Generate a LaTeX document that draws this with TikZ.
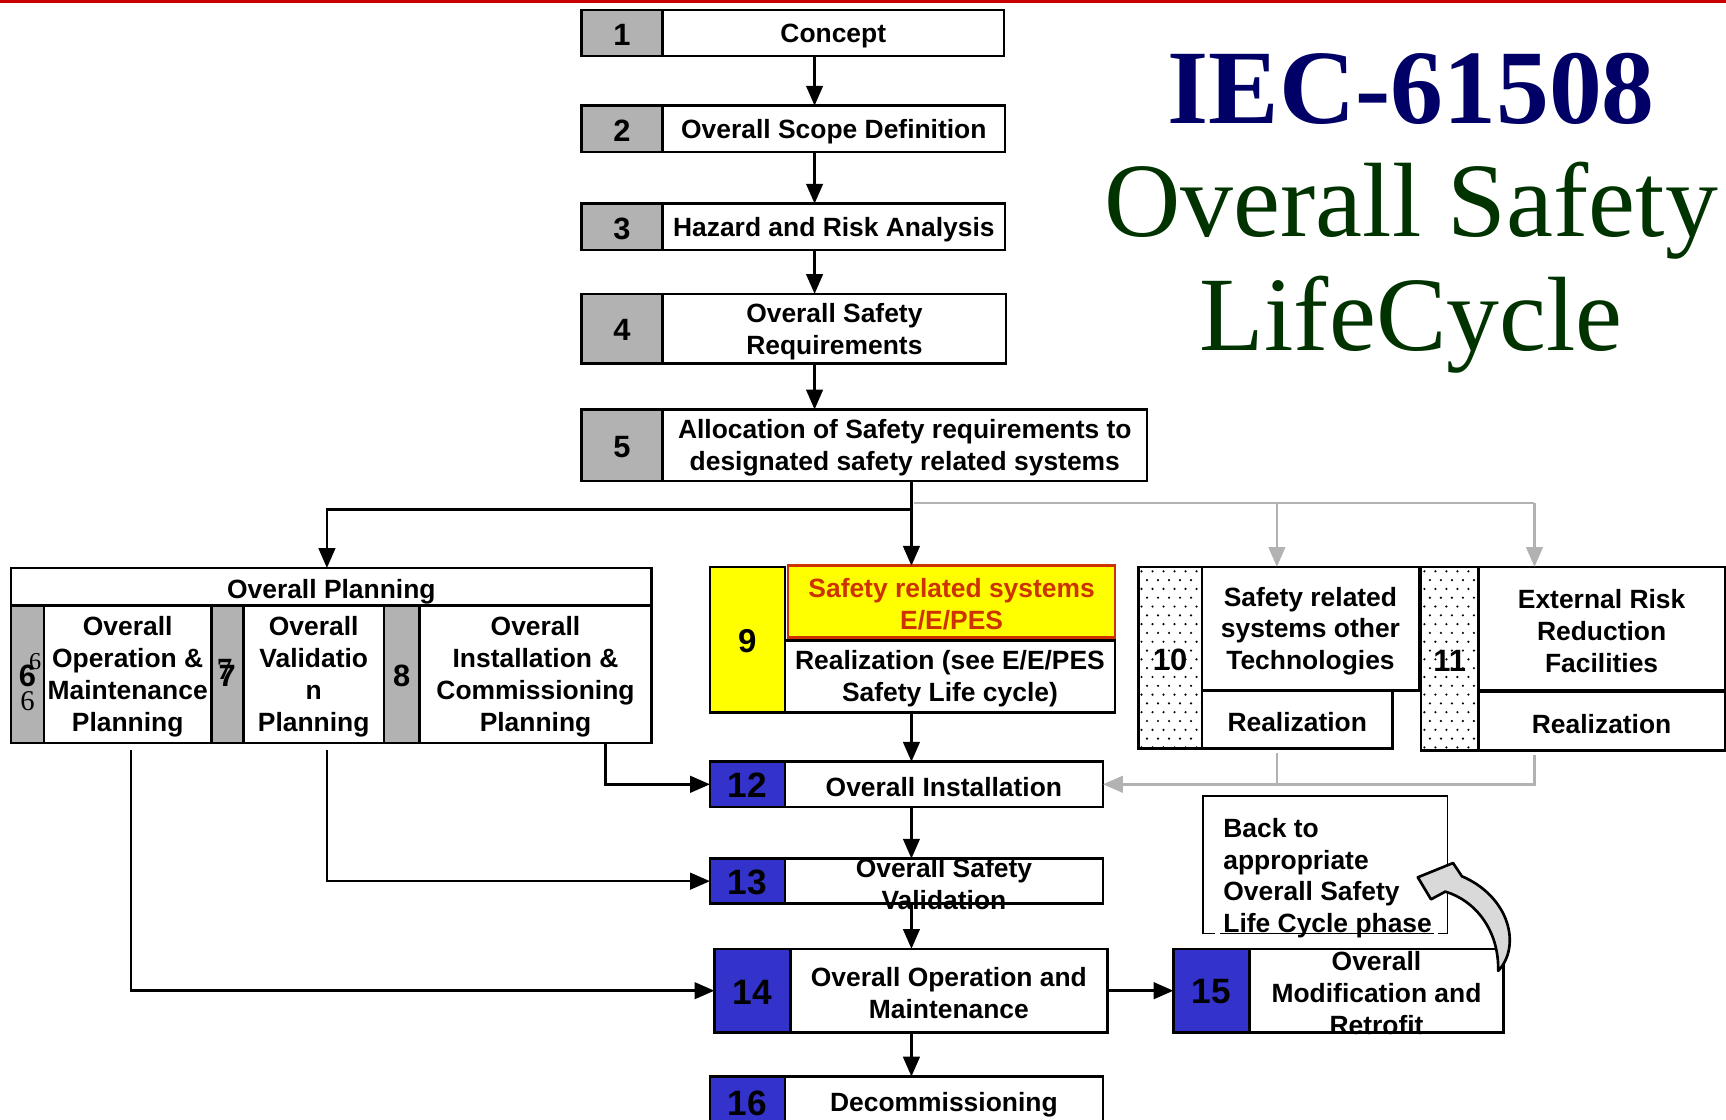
\documentclass[tikz,border=0pt]{standalone}
\usepackage{fontspec}
\setmainfont{Liberation Sans}
\newfontfamily\titlefont{Liberation Serif}
\usetikzlibrary{arrows.meta}

\definecolor{cellgray}{RGB}{178,178,178}
\definecolor{stepblue}{RGB}{51,51,204}
\definecolor{hiyellow}{RGB}{255,255,0}
\definecolor{alertred}{RGB}{204,51,0}
\definecolor{titlenavy}{RGB}{0,0,102}
\definecolor{titlegreen}{RGB}{0,51,0}
\definecolor{linegray}{RGB}{178,178,178}
\definecolor{rulered}{RGB}{200,0,0}
\definecolor{bendfill}{RGB}{217,217,217}

\tikzset{
  frame/.style={rectangle, draw=black, line width=1.2pt, inner sep=0pt, outer sep=0pt},
  graycell/.style={frame, fill=cellgray},
  bluecell/.style={frame, fill=stepblue},
  whitecell/.style={frame, fill=white},
  yellowcell/.style={frame, fill=hiyellow},
  alertcell/.style={frame, draw=alertred, fill=hiyellow},
  dotcell/.style={frame},
  notebox/.style={rectangle, inner sep=0pt, outer sep=0pt},
  boxtext/.style={align=center, inner sep=0pt, yshift=-1.2pt, font=\fontsize{12}{14.5}\selectfont\bfseries},
  numtext/.style={inner sep=0pt, yshift=-0.8pt, font=\fontsize{14}{16}\selectfont\bfseries},
  midnum/.style={inner sep=0pt, yshift=-0.8pt, font=\fontsize{15}{17}\selectfont\bfseries},
  bignum/.style={inner sep=0pt, yshift=-0.6pt, font=\fontsize{16}{18}\selectfont\bfseries},
  serifnum/.style={inner sep=0pt, font=\titlefont\fontsize{13}{15}\selectfont},
  titleline/.style={anchor=base, inner sep=0pt, font=\titlefont\fontsize{48}{48}\selectfont},
  arr/.style={draw=black, line width=1.2pt, -{Triangle[length=9pt,width=7.5pt]}},
  garr/.style={draw=linegray, line width=1.2pt, -{Triangle[length=9pt,width=7.5pt]}},
  gline/.style={draw=linegray, line width=1.2pt},
}

% box from corner (x1,y1) to (x2,y2) with a centred label
\newcommand\phasebox[8]{%
  \node[#6, minimum width={(#4-#2)*0.5pt}, minimum height={(#5-#3)*0.5pt}]
    (#1) at ({(#2+#4)/2},{(#3+#5)/2}) {};
  \node[#7] (#1-t) at (#1.center) {#8};%
}

\begin{document}
\begin{tikzpicture}[x=0.5pt,y=-0.5pt]
\useasboundingbox (0,0) rectangle (1568,1017);
\fill[rulered] (0,0) rectangle (1568,2.5);

% columns used by the connectors
\coordinate (colA) at (740,0);
\coordinate (colB) at (828,0);
\coordinate (colP) at (297,0);
\coordinate (colQ) at (1160,0);
\coordinate (colR) at (1394,0);
\coordinate (colS) at (550,0);
\coordinate (colT) at (119,0);
\coordinate (jb) at (828,463);
\coordinate (jg) at (830,457);

% title
\node[titleline, text=titlenavy, font=\titlefont\bfseries\fontsize{48}{48}\selectfont] (tIEC) at (1282,112) {IEC-61508};
\node[titleline, text=titlegreen] (tOS) at (1282,215) {Overall Safety};
\node[titleline, text=titlegreen] (tLC) at (1282,318) {LifeCycle};

% phases 1-5
\phasebox{g1}{528}{9}{602}{51}{graycell}{numtext}{1}
\phasebox{w1}{602}{9}{912}{51}{whitecell}{boxtext}{Concept}
\phasebox{g2}{528}{96}{602}{138}{graycell}{numtext}{2}
\phasebox{w2}{602}{96}{913}{138}{whitecell}{boxtext}{Overall Scope Definition}
\phasebox{g3}{528}{185}{602}{227}{graycell}{numtext}{3}
\phasebox{w3}{602}{185}{913}{227}{whitecell}{boxtext}{Hazard and Risk Analysis}
\phasebox{g4}{528}{267}{602}{330}{graycell}{numtext}{4}
\phasebox{w4}{602}{267}{914}{330}{whitecell}{boxtext}{Overall Safety\\Requirements}
\phasebox{g5}{528}{372}{602}{437}{graycell}{numtext}{5}
\phasebox{w5}{602}{372}{1042}{437}{whitecell}{boxtext}{Allocation of Safety requirements to\\designated safety related systems}

% overall planning, phases 6-8
\phasebox{op}{10}{516}{592}{550}{whitecell}{boxtext, yshift=-1.2pt}{Overall Planning}
\phasebox{g6}{10}{550}{40}{675}{graycell}{numtext}{}
\node[numtext] (n6a) at (25,612) {6};
\node[serifnum, font=\titlefont\fontsize{11}{13}\selectfont] (n6b) at (32,601) {6};
\node[serifnum] (n6c) at (25,637) {6};
\phasebox{w6}{40}{550}{192}{675}{whitecell}{boxtext}{Overall\\Operation \&\\Maintenance\\Planning}
\phasebox{g7}{192}{550}{221}{675}{graycell}{numtext}{7}
\node[serifnum, font=\titlefont\bfseries\fontsize{14}{16}\selectfont] (n7b) at (204,608) {7};
\phasebox{w7}{221}{550}{349}{675}{whitecell}{boxtext}{Overall\\Validatio\\n\\Planning}
\phasebox{g8}{349}{550}{381}{675}{graycell}{numtext}{8}
\phasebox{w8}{381}{550}{592}{675}{whitecell}{boxtext}{Overall\\Installation \&\\Commissioning\\Planning}

% phase 9
\phasebox{y9}{645}{515}{713}{647}{yellowcell}{midnum}{9}
\phasebox{r9}{716}{514}{1013}{579}{alertcell}{boxtext, text=alertred}{Safety related systems\\E/E/PES}
\phasebox{w9}{713}{582}{1013}{647}{whitecell}{boxtext}{Realization (see E/E/PES\\Safety Life cycle)}

% phases 10 and 11 (dotted number cells)
\begin{scope}
  \clip (1035,516) rectangle (1091,679);
  \foreach \r in {0,...,21}{
    \foreach \c in {0,...,6}{
      \fill ({1037+\c*10+mod(\r,2)*5},{519+\r*8}) circle[radius=0.55pt];
    }
  }
\end{scope}
\begin{scope}
  \clip (1292,516) rectangle (1342,681);
  \foreach \r in {0,...,21}{
    \foreach \c in {0,...,6}{
      \fill ({1294+\c*10+mod(\r,2)*5},{519+\r*8}) circle[radius=0.55pt];
    }
  }
\end{scope}
\phasebox{d10}{1034}{515}{1092}{680}{dotcell}{numtext}{10}
\phasebox{u10}{1092}{515}{1289}{627}{whitecell}{boxtext}{Safety related\\systems other\\Technologies}
\phasebox{l10}{1092}{627}{1265}{680}{whitecell}{boxtext}{Realization}
\phasebox{d11}{1291}{515}{1343}{682}{dotcell}{numtext}{11}
\phasebox{u11}{1343}{515}{1567}{627}{whitecell}{boxtext}{External Risk\\Reduction\\Facilities}
\phasebox{l11}{1343}{628}{1567}{682}{whitecell}{boxtext}{Realization}

% phases 12-16
\phasebox{b12}{645}{692}{713}{733}{bluecell}{bignum}{12}
\phasebox{w12}{713}{692}{1002}{733}{whitecell}{boxtext}{Overall Installation}
\phasebox{b13}{645}{780}{713}{821}{bluecell}{bignum}{13}
\phasebox{w13}{713}{780}{1002}{821}{whitecell}{boxtext}{Overall Safety\\Validation}
\phasebox{b14}{649}{862}{718}{938}{bluecell}{bignum}{14}
\phasebox{w14}{718}{862}{1006}{938}{whitecell}{boxtext}{Overall Operation and\\Maintenance}
\phasebox{b15}{1066}{862}{1135}{938}{bluecell}{bignum}{15}
\phasebox{w15}{1135}{862}{1366}{938}{whitecell}{boxtext}{Overall\\Modification and\\Retrofit}
\phasebox{b16}{645}{978}{713}{1024}{bluecell}{bignum}{16}
\phasebox{w16}{713}{978}{1002}{1024}{whitecell}{boxtext}{Decommissioning}

% note box with its bottom edge running under the last line
\node[notebox, minimum width=111pt, minimum height=62.5pt] (back) at (1204,785.5) {};
\draw[line width=0.6pt] (1104,848) -| (1093,723) -| (1315,848) -- (1306,848);
\draw[line width=0.6pt] (1108,848) -- (1303,848);
\node[boxtext, align=left, anchor=west, yshift=-0.2pt] (back-t) at (1111,795) {Back to\\appropriate\\Overall Safety\\Life Cycle phase};

% bent return arrow
\draw[line width=1.2pt, fill=bendfill, line join=round]
  (1361,882) .. controls (1382,860) and (1372,815) .. (1328,796)
  -- (1320,784) -- (1288,797) -- (1300,817) -- (1313,810)
  .. controls (1340,818) and (1362,845) .. (1361,882) -- cycle;

% main sequence
\draw[arr] (w1.south -| colA) -- (w2.north -| colA);
\draw[arr] (w2.south -| colA) -- (w3.north -| colA);
\draw[arr] (w3.south -| colA) -- (w4.north -| colA);
\draw[arr] (w4.south -| colA) -- (w5.north -| colA);
\draw[arr] (w5.south -| colB) -- (r9.north -| colB);
\draw[arr] (jb) -| (op.north -| colP);
\draw[gline] (jg) -- (jg -| colR);
\draw[garr] (jg -| colQ) -- (u10.north -| colQ);
\draw[garr] (jg -| colR) -- (u11.north -| colR);

\draw[arr] (w9.south -| colB) -- (w12.north -| colB);
\draw[arr] (w12.south -| colB) -- (w13.north -| colB);
\draw[arr] (w13.south -| colB) -- (w14.north -| colB);
\draw[arr] (w14.south -| colB) -- (w16.north -| colB);
\draw[arr] (w14.east) -- (b15.west);

% planning outputs
\draw[arr] (w8.south -| colS) |- (b12.west);
\draw[arr, shorten <=3pt] (w7.south -| colP) |- (b13.west);
\draw[arr, shorten <=3pt] (w6.south -| colT) |- (b14.west);

% other technologies and external facilities into installation
\draw[gline, shorten <=2pt] (l10.south -| colQ) -- (colQ |- w12.east);
\draw[garr, shorten <=2pt] (l11.south -| colR) |- (w12.east);
\end{tikzpicture}
\end{document}
